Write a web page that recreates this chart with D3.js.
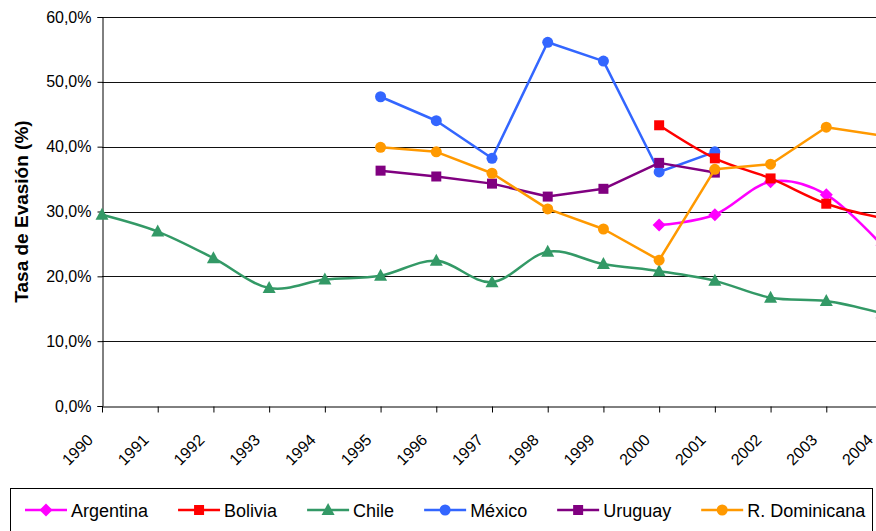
<!DOCTYPE html>
<html>
<head>
<meta charset="utf-8">
<script src="https://cdn.jsdelivr.net/npm/d3@7"></script>
<style>
  html, body { margin: 0; padding: 0; background: #fff; }
  svg { display: block; font-family: Arial, "Liberation Sans", sans-serif; }
</style>
</head>
<body>
<svg id="chart" width="876" height="531"></svg>
<script>
// ---- data ----
const years = [1990, 1991, 1992, 1993, 1994, 1995, 1996, 1997, 1998, 1999, 2000, 2001, 2002, 2003, 2004];
const yTicks = [0, 0.1, 0.2, 0.3, 0.4, 0.5, 0.6];
const argentina = [null, null, null, null, null, null, null, null, null, null, 27.9, 29.5, 34.6, 32.6, 24.8];
const bolivia   = [null, null, null, null, null, null, null, null, null, null, 43.3, 38.2, 35.1, 31.2, 29.0];
const chile     = [29.5, 26.9, 22.8, 18.2, 19.5, 20.1, 22.4, 19.1, 23.8, 21.9, 20.8, 19.3, 16.7, 16.2, 14.3];
const mexico    = [null, null, null, null, null, 47.7, 44.0, 38.2, 56.1, 53.2, 36.1, 39.2, null, null, null];
const uruguay   = [null, null, null, null, null, 36.3, 35.4, 34.3, 32.3, 33.5, 37.5, 36.0, null, null, null];
const rdom      = [null, null, null, null, null, 39.9, 39.2, 35.9, 30.4, 27.3, 22.5, 36.5, 37.3, 43.0, 41.7];
const seriesNames = ["Argentina", "Bolivia", "Chile", "México", "Uruguay", "R. Dominicana"];
const yTitle = "Tasa de Evasión (%)";

(function () {
// ---- styles ----
const series = [
  { name: seriesNames[0], values: argentina, color: "#FF00FF", marker: "diamond", smooth: true },
  { name: seriesNames[1], values: bolivia,   color: "#FF0000", marker: "square",  smooth: true },
  { name: seriesNames[2], values: chile,     color: "#339966", marker: "triangle", smooth: true },
  { name: seriesNames[3], values: mexico,    color: "#3366FF", marker: "circle",  smooth: false },
  { name: seriesNames[4], values: uruguay,   color: "#800080", marker: "square",  smooth: false },
  { name: seriesNames[5], values: rdom,      color: "#FF9900", marker: "circle",  smooth: false }
];
const drawOrder = [3, 2, 0, 1, 4, 5];

const svg = d3.select("#chart");
const pLeft = 102, pRight = 882, pTop = 17, pBottom = 406;

const x = d3.scaleLinear().domain([years[0], years[years.length - 1]]).range([pLeft, pRight]);
const y = d3.scaleLinear().domain([0, 0.6]).range([pBottom, pTop]);
const fmt = d => (d * 100).toFixed(1).replace(".", ",") + "%";

// gridlines
svg.append("g").selectAll("line").data(yTicks.slice(1)).join("line")
  .attr("x1", pLeft).attr("x2", pRight)
  .attr("y1", d => Math.round(y(d)) + 0.5).attr("y2", d => Math.round(y(d)) + 0.5)
  .attr("stroke", "#111").attr("stroke-width", 1);

// y axis
const yAxis = svg.append("g").attr("transform", `translate(${pLeft + 0.5},0)`)
  .call(d3.axisLeft(y).tickValues(yTicks).tickFormat(fmt).tickSize(5).tickPadding(6));
yAxis.selectAll("text").attr("font-size", 16).attr("fill", "#000").attr("font-family", "Arial, 'Liberation Sans', sans-serif");
yAxis.select(".domain").attr("stroke", "#000");
yAxis.selectAll(".tick line").attr("stroke", "#000");

// x axis
const xAxis = svg.append("g").attr("transform", `translate(0,${Math.round(pBottom) + 0.5})`)
  .call(d3.axisBottom(x).tickValues(years).tickFormat(d3.format("d")).tickSize(6).tickSizeOuter(0));
xAxis.select(".domain").attr("stroke", "#000");
xAxis.selectAll(".tick line").attr("stroke", "#000");
xAxis.selectAll("text")
  .attr("font-size", 16).attr("fill", "#000").attr("font-family", "Arial, 'Liberation Sans', sans-serif")
  .attr("text-anchor", "end").attr("dy", 0).attr("y", 0)
  .attr("transform", "translate(-8.5,34.5) rotate(-45)");

// y title
svg.append("text")
  .attr("transform", `translate(28,${(pTop + pBottom) / 2}) rotate(-90)`)
  .attr("text-anchor", "middle")
  .attr("font-size", 19).attr("font-weight", "bold").attr("fill", "#000")
  .text(yTitle);

// markers
function drawMarker(g, type, cx, cy, color) {
  if (type === "circle") {
    g.append("circle").attr("cx", cx).attr("cy", cy).attr("r", 5.5).attr("fill", color);
  } else if (type === "square") {
    g.append("rect").attr("x", cx - 5).attr("y", cy - 5).attr("width", 10).attr("height", 10).attr("fill", color);
  } else if (type === "diamond") {
    g.append("path").attr("d", `M${cx},${cy - 6.5}L${cx + 6.5},${cy}L${cx},${cy + 6.5}L${cx - 6.5},${cy}Z`).attr("fill", color);
  } else if (type === "triangle") {
    g.append("path").attr("d", `M${cx},${cy - 7}L${cx + 6.5},${cy + 5}L${cx - 6.5},${cy + 5}Z`).attr("fill", color);
  }
}

const plot = svg.append("g");
drawOrder.forEach(i => {
  const s = series[i];
  const pts = years.map((yr, k) => ({ yr, v: s.values[k] })).filter(p => p.v != null);
  const line = d3.line()
    .x(p => x(p.yr)).y(p => y(p.v / 100))
    .curve(s.smooth ? d3.curveCatmullRom.alpha(0) : d3.curveLinear);
  const g = plot.append("g");
  g.append("path").attr("d", line(pts)).attr("fill", "none")
    .attr("stroke", s.color).attr("stroke-width", 2.5).attr("stroke-linejoin", "round");
  pts.forEach(p => drawMarker(g, s.marker, x(p.yr), y(p.v / 100), s.color));
});

// legend
svg.append("rect").attr("x", 10.5).attr("y", 488.5).attr("width", 862).attr("height", 60)
  .attr("fill", "#fff").attr("stroke", "#000").attr("stroke-width", 1);
let lx = 25;
const ly = 510;
series.forEach(s => {
  const g = svg.append("g");
  g.append("line").attr("x1", lx).attr("x2", lx + 42).attr("y1", ly).attr("y2", ly)
    .attr("stroke", s.color).attr("stroke-width", 2.5);
  drawMarker(g, s.marker, lx + 21, ly, s.color);
  const t = g.append("text").attr("x", lx + 46).attr("y", ly + 6.5)
    .attr("font-size", 18).attr("fill", "#000").text(s.name);
  lx += 46 + t.node().getComputedTextLength() + 30;
});
})();
</script>
</body>
</html>
